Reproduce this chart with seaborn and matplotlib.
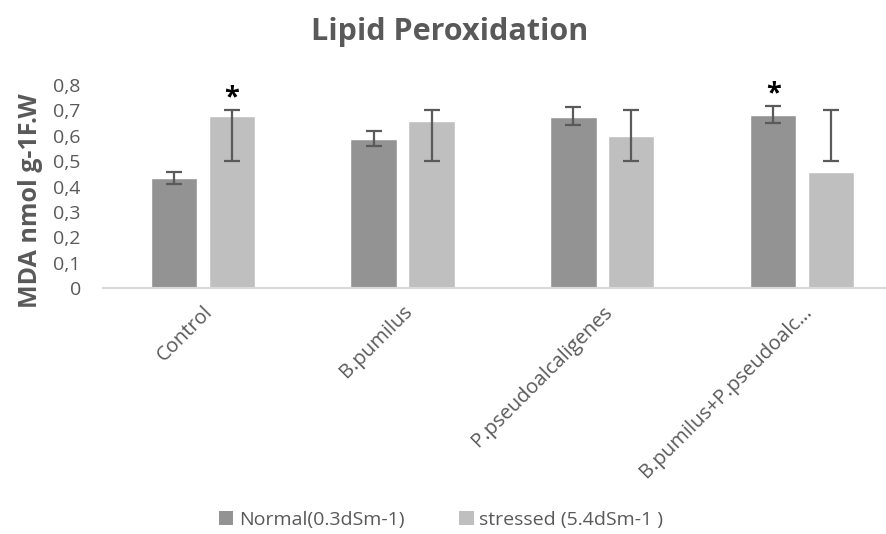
import matplotlib
matplotlib.use("Agg")
import matplotlib.pyplot as plt
import seaborn as sns
import pandas as pd
import numpy as np
from matplotlib.patches import Patch

categories = ["Control", "B.pumilus", "P.pseudoalcaligenes", "B.pumilus+P.pseudoalc…"]
series_names = ["Normal(0.3dSm-1)", "stressed (5.4dSm-1 )"]
normal = [0.432, 0.588, 0.675, 0.683]
stressed = [0.678, 0.657, 0.598, 0.457]
normal_low = [0.411, 0.560, 0.642, 0.651]
normal_high = [0.456, 0.620, 0.712, 0.718]
stressed_low = [0.50, 0.50, 0.50, 0.50]
stressed_high = [0.70, 0.70, 0.70, 0.70]
star_normal = [False, False, False, True]
star_stressed = [True, False, False, False]
yticks = [0, 0.1, 0.2, 0.3, 0.4, 0.5, 0.6, 0.7, 0.8]
ytick_labels = ["0", "0,1", "0,2", "0,3", "0,4", "0,5", "0,6", "0,7", "0,8"]

df = pd.DataFrame({
    "category": categories * 2,
    "series": [series_names[0]] * 4 + [series_names[1]] * 4,
    "value": normal + stressed,
})

sns.set_theme(style="white")
plt.rcParams["font.family"] = ["Open Sans", "DejaVu Sans"]
text_col = "#595959"
colors = ["#939393", "#bfbfbf"]

fig = plt.figure(figsize=(8.86, 5.34), dpi=100)
ax = fig.add_axes([103 / 886, 1 - 288 / 534, 1 - 103 / 886, (288 - 85) / 534])

sns.barplot(data=df, x="category", y="value", hue="series", order=categories,
            hue_order=series_names, palette=colors, width=0.58, gap=0.2,
            saturation=1, errorbar=None, ax=ax, legend=False)

lows = [normal_low, stressed_low]
highs = [normal_high, stressed_high]
stars = [star_normal, star_stressed]
bar_conts = list(ax.containers)
ecol = "#5a5a5a"
for s, cont in enumerate(bar_conts):
    for i, bar in enumerate(cont.patches):
        xc = bar.get_x() + bar.get_width() / 2
        lo, hi = lows[s][i], highs[s][i]
        mid = (lo + hi) / 2
        ax.errorbar([xc], [mid], yerr=[[mid - lo], [hi - mid]],
                    fmt="none", ecolor=ecol, elinewidth=1.6, capsize=5.5, capthick=1.6)
        if stars[s][i]:
            ax.text(xc, hi - 0.001, "*", ha="center", va="bottom", fontsize=19.5,
                    fontweight="bold", color="black")

ax.set_xlim(-0.5, 3.42)
ax.set_ylim(0, 0.8)
ax.set_yticks(yticks)
ax.set_yticklabels(ytick_labels, fontsize=14, color=text_col)
ax.tick_params(axis="y", length=0, pad=16)
ax.tick_params(axis="x", length=0, pad=10)
ax.set_xticks(range(len(categories)))
ax.set_xticklabels(categories, rotation=45, ha="right", rotation_mode="anchor",
                   fontsize=14.5, color=text_col)
for sp in ["top", "right", "left"]:
    ax.spines[sp].set_visible(False)
ax.spines["bottom"].set_color("#d9d9d9")
ax.spines["bottom"].set_linewidth(1.5)
ax.set_xlabel("")
ax.set_ylabel("MDA nmol g-1F.W", fontsize=18, fontweight="bold", color=text_col)
ax.yaxis.set_label_coords(-0.077, 0.43)

fig.text(450 / 886, 1 - 32 / 534, "Lipid Peroxidation", ha="center", va="center",
         fontsize=22, fontweight="bold", color=text_col)

handles = [Patch(facecolor=colors[0], edgecolor="none"), Patch(facecolor=colors[1], edgecolor="none")]
fig.legend(handles, series_names, loc="center", bbox_to_anchor=(441 / 886, 1 - 520 / 534),
           ncol=2, frameon=False, fontsize=14, handlelength=0.75, handleheight=0.75,
           handletextpad=0.3, columnspacing=2.8, labelcolor=text_col)

fig.savefig("out.png", dpi=100)
